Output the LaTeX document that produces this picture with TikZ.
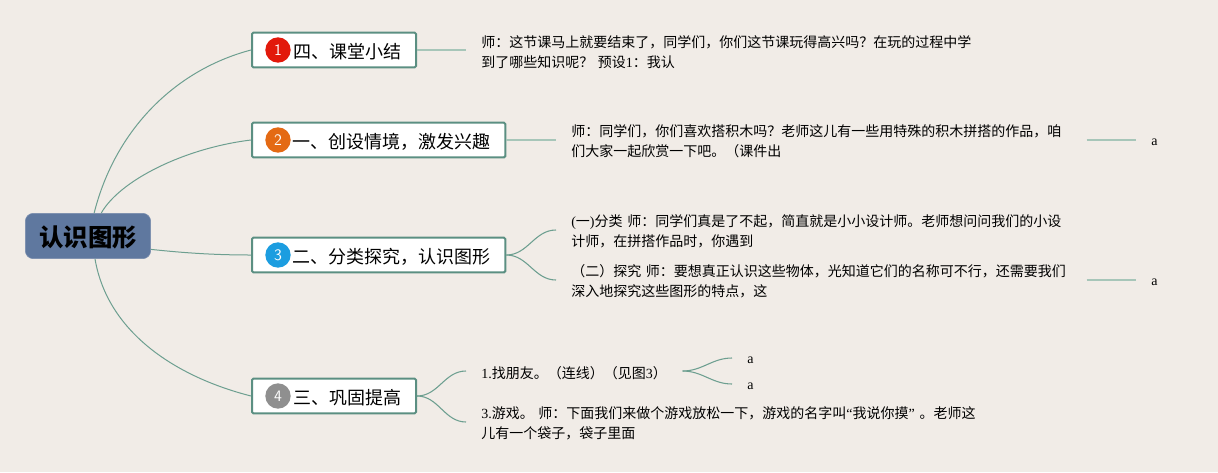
\documentclass[tikz,border=0pt]{standalone}
\usepackage{fontspec}
\setmainfont{Liberation Serif}
\newfontfamily\cjk{Noto Sans CJK SC}
\usetikzlibrary{calc}
\definecolor{paper}{HTML}{F1ECE7}
\definecolor{rootblue}{HTML}{5F789F}
\definecolor{boxgreen}{HTML}{5B8F82}
\definecolor{linegreen}{HTML}{6D9F90}
\definecolor{palegreen}{HTML}{A7C6B9}
\definecolor{iconred}{HTML}{E2190B}
\definecolor{iconorange}{HTML}{E46A14}
\definecolor{iconblue}{HTML}{1C9DE0}
\definecolor{icongray}{HTML}{8F8F8F}
\newcommand{\lat}[1]{{\rmfamily #1}}
\newcommand{\cdou}{\char"FF0C\relax}
\newcommand{\cmao}{\char"FF1A\relax}
\newcommand{\cwen}{\char"FF1F\relax}
\newcommand{\czuo}{\char"FF08\relax}
\newcommand{\cyou}{\char"FF09\relax}
\tikzset{
 rootbox/.style={fill=rootblue, draw=rootblue!85!white, rounded corners=6pt, minimum width=94pt, minimum height=34pt, inner sep=0pt, font=\fontsize{18.3}{22}\selectfont\cjk\bfseries, execute at begin node={\rule{0pt}{17.5pt}}},
 topic/.style={anchor=west, draw=boxgreen, line width=1.5pt, fill=white, rounded corners=1pt, minimum height=26pt, inner xsep=11pt, inner ysep=0pt, align=right, text width=#1, font=\fontsize{13.5}{16}\selectfont\cjk, execute at begin node={\rule{0pt}{14pt}}},
 icon/.style={circle, fill=#1, text=white, minimum size=19pt, inner sep=0pt, font=\fontsize{12}{14}\selectfont\sffamily},
 body/.style={anchor=west, inner xsep=11.25pt, inner ysep=0pt, align=left, text width=#1, font=\fontsize{10.5}{15}\selectfont\cjk, execute at begin node={\rule{0pt}{11.5pt}}},
 leaf/.style={anchor=west, inner xsep=11.25pt, inner ysep=0pt, text height=8.5pt, text depth=0pt, font=\fontsize{10.5}{15}\selectfont},
 root line/.style={linegreen, line width=.75pt},
 stem/.style={palegreen, line width=1.2pt},
 fork/.style={linegreen, line width=.8pt},
}
\begin{document}
\begin{tikzpicture}[x=0.75pt,y=-0.75pt]
\fill[paper] (0,0) rectangle (1218,472);
\useasboundingbox (0,0) rectangle (1218,472);

\node[rootbox] (root) at (88,236) {认识图形};

\node[topic=101pt] (b1) at (251,50) {四、课堂小结};
\node[topic=168pt] (b2) at (251,140) {一、创设情境\cdou{}激发兴趣};
\node[topic=168pt] (b3) at (251,255) {二、分类探究\cdou{}认识图形};
\node[topic=101pt] (b4) at (251,396) {三、巩固提高};

\node[icon=iconred] (i1) at ($(b1.west)+(27,0)$) {1};
\node[icon=iconorange] (i2) at ($(b2.west)+(27,0)$) {2};
\node[icon=iconblue] (i3) at ($(b3.west)+(27,0)$) {3};
\node[icon=icongray] (i4) at ($(b4.west)+(27,0)$) {4};

\node[body=375pt] (t1) at (466,50) {师\cmao{}这节课马上就要结束了\cdou{}同学们\cdou{}你们这节课玩得高兴吗\cwen{}在玩的过程中学\\到了哪些知识呢\cwen{} 预设\lat{1}\cmao{}我认};
\node[body=375pt] (t2) at (556,140) {师\cmao{}同学们\cdou{}你们喜欢搭积木吗\cwen{}老师这儿有一些用特殊的积木拼搭的作品\cdou{}咱\\们大家一起欣赏一下吧。\czuo{}课件出};
\node[body=375pt] (t3) at (556,230) {\lat{(}一\lat{)}分类 师\cmao{}同学们真是了不起\cdou{}简直就是小小设计师。老师想问问我们的小设\\计师\cdou{}在拼搭作品时\cdou{}你遇到};
\node[body=375pt] (t4) at (556,280) {\czuo{}二\cyou{}探究 师\cmao{}要想真正认识这些物体\cdou{}光知道它们的名称可不行\cdou{}还需要我们\\深入地探究这些图形的特点\cdou{}这};
\node[body=139.5pt] (t5) at (466,371) {\lat{1.}找朋友。\czuo{}连线\cyou{}\czuo{}见图\lat{3}\cyou{}};
\node[body=375pt] (t6) at (466,422) {\lat{3.}游戏。 师\cmao{}下面我们来做个游戏放松一下\cdou{}游戏的名字叫\lat{“}我说你摸\lat{”} 。老师这\\儿有一个袋子\cdou{}袋子里面};

\node[leaf] (a1) at (1136,140) {a};
\node[leaf] (a2) at (1136,280) {a};
\node[leaf] (a3) at (732,358) {a};
\node[leaf] (a4) at (732,384) {a};

\draw[root line] (root.75) .. controls (115,130) and (175,70) .. (b1.west);
\draw[root line] (root.60) .. controls (120,180) and (185,148) .. (b2.west);
\draw[root line] (root.-12) .. controls (185,253) and (215,255) .. (b3.west);
\draw[root line] (root.-73) .. controls (108,335) and (180,378) .. (b4.west);

\draw[stem] (b1.east) -- (t1.west);
\draw[stem] (b2.east) -- (t2.west);
\draw[fork] (b3.east) to[out=0,in=180] (t3.west);
\draw[fork] (b3.east) to[out=0,in=180] (t4.west);
\draw[fork] (b4.east) to[out=0,in=180] (t5.west);
\draw[fork] (b4.east) to[out=0,in=180] (t6.west);
\draw[stem] (t2.east) -- (a1.west);
\draw[stem] (t4.east) -- (a2.west);
\draw[fork] (t5.east) to[out=0,in=180] (a3.west);
\draw[fork] (t5.east) to[out=0,in=180] (a4.west);
\end{tikzpicture}
\end{document}
